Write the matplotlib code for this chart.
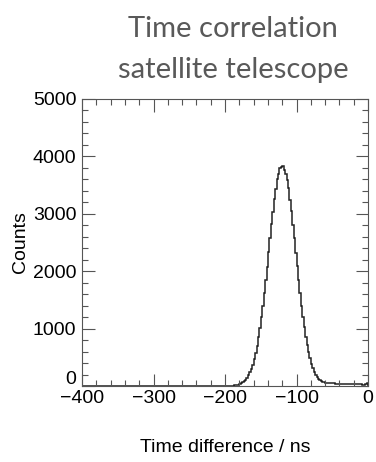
import matplotlib
matplotlib.use("Agg")
import matplotlib.pyplot as plt
import matplotlib.transforms as mtransforms
import numpy as np
from matplotlib.ticker import MultipleLocator

# histogram: 2 ns bins from -400 to 0 ns
bin_lo, bin_hi, bin_w = -400, 0, 2

# -400 .. -190 ns (105 bins), nearly empty
counts_left = [
    0, 1, 0, 0, 1, 0, 0, 0, 1, 0, 0, 1, 0, 0, 0, 1, 0, 0, 1, 0,
    0, 1, 0, 1, 0, 0, 1, 0, 0, 1, 0, 1, 0, 0, 1, 0, 1, 0, 1, 0,
    1, 0, 1, 1, 0, 1, 0, 1, 1, 0, 1, 1, 0, 1, 1, 2, 1, 1, 2, 1,
    1, 2, 1, 2, 2, 1, 2, 2, 1, 2, 2, 3, 2, 2, 3, 2, 3, 3, 2, 3,
    3, 4, 3, 3, 4, 4, 3, 4, 5, 4, 5, 5, 4, 5, 6, 5, 6, 6, 7, 6,
    7, 7, 8, 7, 8,
]
# -190 .. -50 ns (70 bins), the peak
counts_peak = [
    8, 11, 14, 19, 25, 34, 45, 61, 80, 108,
    140, 183, 236, 300, 371, 470, 580, 702, 855, 1010,
    1205, 1392, 1620, 1850, 2080, 2335, 2570, 2815, 3030, 3255,
    3425, 3600, 3700, 3800, 3820, 3835, 3760, 3690, 3580, 3440,
    3240, 3045, 2800, 2580, 2320, 2090, 1840, 1625, 1400, 1200,
    1020, 860, 715, 590, 480, 390, 315, 252, 200, 160,
    128, 104, 86, 73, 64, 58, 53, 50, 48, 46,
]
# -50 .. 0 ns (25 bins), flat tail
counts_right = [
    45, 44, 42, 41, 40, 38, 39, 37, 36, 35, 34, 35, 33, 32, 31,
    30, 31, 29, 28, 27, 28, 26, 25, 27, 60,
]

x_ticks = [-400, -300, -200, -100, 0]
y_ticks = [0, 1000, 2000, 3000, 4000, 5000]

counts = np.array(counts_left + counts_peak + counts_right)
edges = np.arange(bin_lo, bin_hi + bin_w, bin_w)

plt.rcParams['font.family'] = ['Liberation Sans', 'DejaVu Sans']

fig = plt.figure(figsize=(3.76, 4.62), dpi=100)
ax = fig.add_axes([0.218, 0.1645, 0.761, 0.6215])

ax.stairs(counts, edges, color='#222222', linewidth=1.1)

ax.set_xlim(bin_lo, bin_hi)
ax.set_ylim(0, 5000)
ax.set_xticks(x_ticks)
ax.set_yticks(y_ticks)
ax.xaxis.set_minor_locator(MultipleLocator(20))
ax.yaxis.set_minor_locator(MultipleLocator(200))

# ROOT style ticks: inside, on all four sides
ax.tick_params(which='both', direction='in', top=True, right=True,
               color='#555555', width=0.8, labelsize=14)
ax.tick_params(which='major', length=9)
ax.tick_params(which='minor', length=4.5)
ax.tick_params(axis='x', pad=3)
ax.tick_params(axis='y', pad=4)
for s in ax.spines.values():
    s.set_color('#555555')
    s.set_linewidth(0.8)

# lift the "0" on the y axis so it clears the -400 label
zero_lbl = ax.get_yticklabels()[0]
zero_lbl.set_transform(zero_lbl.get_transform() +
                       mtransforms.ScaledTranslation(0, 9 / 100, fig.dpi_scale_trans))

ax.set_xlabel('Time difference / ns', fontsize=14, labelpad=23)
ax.set_ylabel('Counts', fontsize=14, labelpad=3)

# slide title
fig.text(233 / 376, 0.920, 'Time correlation', ha='center', va='baseline',
         fontsize=21, color='#595959', family=['Lato', 'DejaVu Sans'])
fig.text(233 / 376, 0.831, 'satellite telescope', ha='center', va='baseline',
         fontsize=21, color='#595959', family=['Lato', 'DejaVu Sans'])

fig.savefig('out.png', dpi=100)
